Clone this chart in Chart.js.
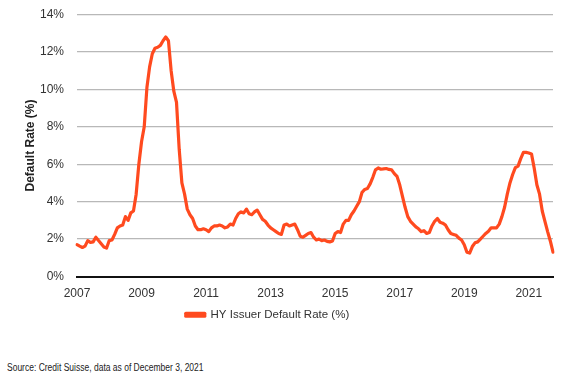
<!DOCTYPE html>
<html>
<head>
<meta charset="utf-8">
<script src="https://cdn.jsdelivr.net/npm/chart.js@4/dist/chart.umd.min.js"></script>
<style>
  html, body { margin: 0; padding: 0; background: #ffffff; }
  #wrap { position: relative; width: 569px; height: 378px; }
  #box { position: absolute; left: 0; top: 0; width: 569px; height: 335px; }
  #source { position: absolute; left: 7px; top: 362px; font-family: "Liberation Sans", Arial, sans-serif; font-size: 10px; color: #222; white-space: nowrap; transform: scaleX(0.85); transform-origin: left top; }
</style>
</head>
<body>
<div id="wrap">
  <div id="box"><canvas id="c"></canvas></div>
  <div id="source">Source: Credit Suisse, data as of December 3, 2021</div>
</div>
<script>
// Monthly HY issuer default rate (%), Jan 2007 - Oct 2021
const years = [2007, 2008, 2009, 2010, 2011, 2012, 2013, 2014, 2015, 2016, 2017, 2018, 2019, 2020, 2021];
const rate2007 = [1.70, 1.62, 1.55, 1.62, 1.92, 1.82, 1.85, 2.10, 1.92, 1.75, 1.58, 1.52];
const rate2008 = [1.92, 1.95, 2.25, 2.60, 2.70, 2.75, 3.20, 3.00, 3.40, 3.50, 4.40, 6.00];
const rate2009 = [7.20, 8.00, 10.10, 11.20, 11.90, 12.20, 12.25, 12.35, 12.60, 12.80, 12.60, 11.00];
const rate2010 = [9.90, 9.30, 6.80, 5.00, 4.40, 3.60, 3.30, 3.10, 2.70, 2.50, 2.50, 2.55];
const rate2011 = [2.50, 2.40, 2.60, 2.70, 2.70, 2.75, 2.70, 2.60, 2.65, 2.80, 2.75, 3.10];
const rate2012 = [3.35, 3.45, 3.40, 3.60, 3.35, 3.30, 3.45, 3.55, 3.30, 3.05, 2.95, 2.75];
const rate2013 = [2.60, 2.50, 2.40, 2.30, 2.25, 2.75, 2.80, 2.70, 2.75, 2.80, 2.50, 2.15];
const rate2014 = [2.10, 2.20, 2.30, 2.35, 2.10, 1.95, 2.00, 1.92, 1.95, 1.88, 1.85, 1.90];
const rate2015 = [2.30, 2.40, 2.35, 2.80, 3.00, 3.00, 3.30, 3.50, 3.75, 4.00, 4.50, 4.65];
const rate2016 = [4.70, 4.95, 5.30, 5.70, 5.80, 5.73, 5.75, 5.77, 5.72, 5.70, 5.50, 5.35];
const rate2017 = [4.90, 4.30, 3.70, 3.20, 2.95, 2.80, 2.65, 2.55, 2.40, 2.45, 2.30, 2.35];
const rate2018 = [2.70, 2.95, 3.10, 2.90, 2.85, 2.75, 2.50, 2.30, 2.25, 2.20, 2.05, 1.95];
const rate2019 = [1.70, 1.30, 1.25, 1.60, 1.80, 1.85, 2.00, 2.15, 2.30, 2.42, 2.60, 2.60];
const rate2020 = [2.60, 2.80, 3.20, 3.70, 4.40, 5.00, 5.45, 5.82, 5.90, 6.30, 6.63, 6.63];
const rate2021 = [6.60, 6.55, 5.80, 4.90, 4.40, 3.50, 2.95, 2.40, 1.90, 1.30];
const yTicks = [0, 2, 4, 6, 8, 10, 12, 14];
const seriesName = 'HY Issuer Default Rate (%)';

const yearly = [rate2007, rate2008, rate2009, rate2010, rate2011, rate2012, rate2013, rate2014,
                rate2015, rate2016, rate2017, rate2018, rate2019, rate2020, rate2021];
const labels = [];
const values = [];
yearly.forEach((arr, yi) => {
  arr.forEach((v, mi) => {
    labels.push({ year: years[yi], month: mi });
    values.push(v);
  });
});

const FONT = '"Liberation Sans", Arial, sans-serif';
const LINE = '#ff4a1f';

// place the legend like the reference (left of centre, fixed height)
const legendPlace = {
  id: 'legendPlace',
  afterLayout(chart) {
    const l = chart.legend;
    if (!l) return;
    const w = 535;
    l.left = 0; l.right = w; l.width = w;
    const h = l.height;
    l.top = 303; l.bottom = 303 + h;
  }
};

new Chart(document.getElementById('c'), {
  type: 'line',
  data: {
    labels: labels.map(l => l.year + '-' + String(l.month + 1).padStart(2, '0')),
    datasets: [{
      label: seriesName,
      data: values,
      borderColor: LINE,
      backgroundColor: LINE,
      borderWidth: 3.2,
      pointRadius: 0,
      tension: 0,
      borderJoinStyle: 'round',
      borderCapStyle: 'round'
    }]
  },
  plugins: [legendPlace],
  options: {
    responsive: true,
    maintainAspectRatio: false,
    animation: false,
    layout: { padding: { left: 0, right: 16, top: 0, bottom: 4 } },
    plugins: {
      legend: {
        display: true,
        position: 'bottom',
        labels: {
          boxWidth: 19,
          boxHeight: 3,
          color: '#333',
          font: { family: FONT, size: 11.5 },
          padding: 6
        }
      },
      tooltip: { enabled: false }
    },
    scales: {
      x: {
        type: 'category',
        offset: false,
        afterFit: axis => { axis.height = 27; },
        grid: { display: false, drawTicks: false },
        border: { display: true, color: '#111', width: 2 },
        ticks: {
          autoSkip: false,
          maxRotation: 0,
          minRotation: 0,
          padding: 10,
          color: '#333',
          font: { family: FONT, size: 12 },
          callback: function(val, idx) {
            const l = labels[idx];
            if (l && l.month === 0 && (l.year % 2 === 1)) return String(l.year);
            return null;
          }
        }
      },
      y: {
        min: 0,
        max: 14,
        afterFit: axis => { axis.width = 77; axis.paddingTop = 14.5; axis.paddingBottom = 0; },
        afterBuildTicks: axis => { axis.ticks = yTicks.map(v => ({ value: v })); },
        grid: {
          color: ctx => ctx.tick && ctx.tick.value === 0 ? '#111' : '#b8b8b8',
          lineWidth: ctx => ctx.tick && ctx.tick.value === 0 ? 2 : 1.2,
          drawTicks: false
        },
        border: { display: false },
        ticks: {
          padding: 13,
          color: '#333',
          font: { family: FONT, size: 12 },
          callback: v => v + '%'
        },
        title: {
          display: true,
          text: 'Default Rate (%)',
          color: '#222',
          font: { family: FONT, size: 12, weight: 'bold' },
          padding: { top: 23, bottom: 0 }
        }
      }
    }
  }
});
</script>
</body>
</html>
